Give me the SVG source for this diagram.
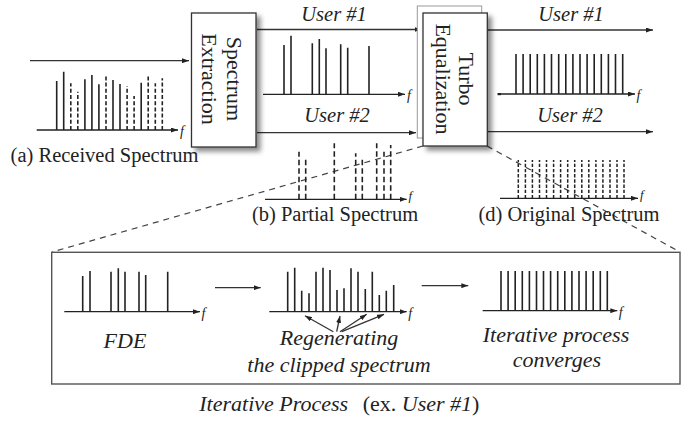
<svg xmlns="http://www.w3.org/2000/svg" width="697" height="423" viewBox="0 0 697 423" font-family="'Liberation Serif', 'Times New Roman', Times, serif">
<style>
text{font-family:'Liberation Serif','Times New Roman',Times,serif;fill:#222}
.lbl{font-size:20.5px}
.it{font-style:italic}
.big{font-size:22px}
.f{font-size:14px;font-style:italic}
.fs{font-size:13px;font-style:italic}
.ax{stroke:#222;stroke-width:1.3;fill:none}
.sp{stroke:#222;stroke-width:1.6;fill:none}
.spd{stroke:#222;stroke-width:1.6;fill:none;stroke-dasharray:4 2.2}
.spd2{stroke:#222;stroke-width:1.6;fill:none;stroke-dasharray:5.5 3}
.spd3{stroke:#222;stroke-width:1.5;fill:none;stroke-dasharray:3.4 1.8}
.con{stroke:#333;stroke-width:1.3;fill:none}
.dash{stroke:#444;stroke-width:1.2;fill:none;stroke-dasharray:6 5}
.box{fill:#fff;stroke:#333;stroke-width:1.3}
</style>
<defs>
<marker id="ah" markerUnits="userSpaceOnUse" markerWidth="7" markerHeight="5" refX="7" refY="2.5" orient="auto">
<path d="M0,0 L7,2.5 L0,5 z" fill="#222"/>
</marker>
<filter id="sh" x="-20%" y="-20%" width="150%" height="150%">
<feDropShadow dx="4" dy="4" stdDeviation="2.8" flood-color="#000" flood-opacity="0.45"/>
</filter>
</defs>

<!-- connectors -->
<g id="connectors">
<line class="con" x1="30" y1="60.7" x2="189" y2="60.7" marker-end="url(#ah)"/>
<line class="con" x1="257" y1="29.5" x2="421.5" y2="29.5" marker-end="url(#ah)"/>
<line class="con" x1="257" y1="132.7" x2="416" y2="132.7" marker-end="url(#ah)"/>
<line class="con" x1="488" y1="30" x2="653" y2="30" marker-end="url(#ah)"/>
<line class="con" x1="488" y1="131.7" x2="653" y2="131.7" marker-end="url(#ah)"/>
<line class="dash" x1="423" y1="146" x2="52" y2="252"/>
<line class="dash" x1="487" y1="146" x2="680" y2="252"/>
<line class="con" x1="215" y1="287.7" x2="260.7" y2="287.7" marker-end="url(#ah)"/>
<line class="con" x1="421.7" y1="285.7" x2="468.3" y2="285.7" marker-end="url(#ah)"/>
<line class="con" x1="333.3" y1="331.7" x2="305" y2="315.7" marker-end="url(#ah)"/>
<line class="con" x1="336.7" y1="331.7" x2="340" y2="316" marker-end="url(#ah)"/>
<line class="con" x1="340" y1="331.7" x2="366.7" y2="314.3" marker-end="url(#ah)"/>
<line class="con" x1="341.7" y1="331.7" x2="384" y2="314.3" marker-end="url(#ah)"/>
</g>

<!-- Spectrum Extraction -->
<g id="spectrum-extraction">
<rect class="box" x="191.5" y="13" width="64.5" height="134" filter="url(#sh)"/>
<text class="big" text-anchor="middle" transform="translate(223.7,79) rotate(90)"><tspan x="0" y="-3.5">Spectrum</tspan><tspan x="0" y="21.5">Extraction</tspan></text>
</g>

<!-- Turbo Equalization -->
<g id="turbo-equalization">
<rect x="417.3" y="6" width="64.4" height="132" fill="#fff" stroke="#999" stroke-width="1"/>
<rect class="box" x="423" y="13" width="64.3" height="133" filter="url(#sh)"/>
<text class="big" text-anchor="middle" transform="translate(455,79) rotate(90)"><tspan x="0" y="-4">Turbo</tspan><tspan x="0" y="19.5">Equalization</tspan></text>
</g>

<!-- (a) Received Spectrum -->
<g id="received-spectrum">
<line class="ax" x1="36.7" y1="130" x2="178" y2="130" marker-end="url(#ah)"/>
<text class="f" x="180" y="136">f</text>
<path class="sp" d="M56.7,130V81 M63.7,130V71.7 M84.9,130V79.3 M91.9,130V75 M98.9,130V84.3 M113,130V80 M120,130V84 M141.2,130V82.7"/>
<path class="spd" d="M70.8,130V83.3 M77.8,130V91.7 M106,130V76 M127.1,130V86 M134.1,130V96 M148.2,130V76 M155.3,130V83.3 M162.3,130V78.3"/>
<text class="lbl" x="104.5" y="161.5" text-anchor="middle">(a) Received Spectrum</text>
</g>

<!-- User #1 extracted -->
<g id="user1-extracted">
<text class="lbl it" x="334" y="20.5" text-anchor="middle">User #1</text>
<line class="ax" x1="263" y1="94.3" x2="405" y2="94.3" marker-end="url(#ah)"/>
<text class="f" x="407" y="100">f</text>
<path class="sp" d="M284,94.3V45 M291,94.3V35.7 M312.3,94.3V43.3 M319.3,94.3V39 M326,94.3V48.3 M340.7,94.3V44.3 M347.7,94.3V47.7 M369,94.3V46"/>
</g>

<!-- User #2 / (b) Partial Spectrum -->
<g id="partial-spectrum">
<text class="lbl it" x="337" y="122" text-anchor="middle">User #2</text>
<line class="ax" x1="265" y1="199.3" x2="406.7" y2="199.3" marker-end="url(#ah)"/>
<text class="fs" x="408.5" y="199.5">f</text>
<path class="spd2" d="M299,199.3V151.7 M305.7,199.3V159.3 M334.3,199.3V143.3 M355.7,199.3V153.3 M362.3,199.3V156.7 M376.7,199.3V143.3 M384,199.3V151.7 M390.7,199.3V145"/>
<text class="lbl" x="335" y="220.5" text-anchor="middle">(b) Partial Spectrum</text>
</g>

<!-- Output User #1 -->
<g id="user1-output">
<text class="lbl it" x="571" y="20.5" text-anchor="middle">User #1</text>
<rect x="497.5" y="93" width="3.5" height="2.2" fill="#222"/>
<line class="ax" x1="498.3" y1="94" x2="635" y2="94" marker-end="url(#ah)"/>
<text class="f" x="636.5" y="100">f</text>
<path class="sp" d="M516,94V54 M523.1,94V54 M530.2,94V54 M537.3,94V54 M544.4,94V54 M551.5,94V54 M558.7,94V54 M565.8,94V54 M572.9,94V54 M580,94V54 M587.1,94V54 M594.2,94V54 M601.3,94V54 M608.4,94V54 M615.5,94V54 M622.7,94V54"/>
</g>

<!-- Output User #2 / (d) Original Spectrum -->
<g id="original-spectrum">
<text class="lbl it" x="570" y="122" text-anchor="middle">User #2</text>
<line class="ax" x1="500" y1="198.3" x2="638" y2="198.3" marker-end="url(#ah)"/>
<text class="fs" x="640" y="199">f</text>
<path class="spd3" d="M518.3,198.3V160 M525.4,198.3V160 M532.4,198.3V160 M539.5,198.3V160 M546.5,198.3V160 M553.6,198.3V160 M560.6,198.3V160 M567.7,198.3V160 M574.7,198.3V160 M581.8,198.3V160 M588.8,198.3V160 M595.9,198.3V160 M602.9,198.3V160 M610,198.3V160 M617,198.3V160 M624,198.3V160"/>
<text class="lbl" x="569" y="220.5" text-anchor="middle">(d) Original Spectrum</text>
</g>

<!-- Iterative process box -->
<g id="iterative-process">
<rect x="51.7" y="252.3" width="628.3" height="131.7" fill="none" stroke="#555" stroke-width="1.4"/>
<text class="big it" x="199.3" y="411">Iterative Process<tspan x="362.7" font-style="normal">(ex. </tspan><tspan>User #1</tspan><tspan font-style="normal">)</tspan></text>
</g>

<g id="fde">
<line class="ax" x1="64.3" y1="311.7" x2="200" y2="311.7" marker-end="url(#ah)"/>
<text class="f" x="201.5" y="317.5">f</text>
<path class="sp" d="M82.7,311.7V276 M90,311.7V271 M111,311.7V271.7 M118.3,311.7V268.3 M125,311.7V271.7 M139,311.7V271.7 M145.7,311.7V275 M167.7,311.7V271.7"/>
<text class="big it" x="125" y="348" text-anchor="middle">FDE</text>
</g>

<g id="regenerating">
<line class="ax" x1="269.3" y1="311.7" x2="406.7" y2="311.7" marker-end="url(#ah)"/>
<text class="f" x="408.3" y="317.5">f</text>
<path class="sp" d="M287.7,311.7V271.7 M294.7,311.7V267.7 M301.7,311.7V290.7 M309,311.7V293.3 M316,311.7V271.7 M323,311.7V267.7 M330,311.7V270 M337,311.7V290 M344,311.7V288.3 M351,311.7V268.3 M358,311.7V271.7 M365.3,311.7V289 M372.3,311.7V271.7 M379.3,311.7V295 M386.3,311.7V290.7 M393.7,311.7V285"/>
<text class="big it" x="339" y="345" text-anchor="middle">Regenerating</text>
<text class="big it" x="339" y="371.7" text-anchor="middle">the clipped spectrum</text>
</g>

<g id="converges">
<line class="ax" x1="482.7" y1="310.7" x2="617.3" y2="310.7" marker-end="url(#ah)"/>
<text class="f" x="618.8" y="316.5">f</text>
<path class="sp" d="M501,310.7V271 M508.1,310.7V271 M515.2,310.7V271 M522.3,310.7V271 M529.4,310.7V271 M536.5,310.7V271 M543.5,310.7V271 M550.6,310.7V271 M557.7,310.7V271 M564.8,310.7V271 M571.9,310.7V271 M579,310.7V271 M586.1,310.7V271 M593.2,310.7V271 M600.3,310.7V271 M607.3,310.7V271"/>
<text class="big it" x="556" y="342" text-anchor="middle">Iterative process</text>
<text class="big it" x="557" y="366.7" text-anchor="middle">converges</text>
</g>
</svg>
